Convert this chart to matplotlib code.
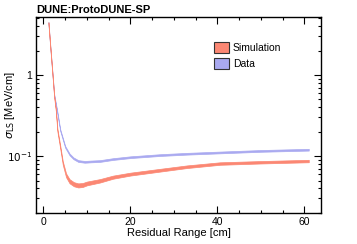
"""Landau width vs residual range, ProtoDUNE-SP data vs simulation."""

import numpy as np
import matplotlib

matplotlib.use("Agg")
import matplotlib.pyplot as plt
from matplotlib.patches import Patch
from matplotlib.ticker import FixedLocator, FixedFormatter, MultipleLocator, NullFormatter

plt.rcParams["font.family"] = ["Liberation Sans", "DejaVu Sans"]

# residual range [cm] and sigma_LS [MeV/cm]
data_rr = [1.15, 1.5, 2.0, 2.46, 3.1, 3.85, 5.0, 6.0, 6.9, 8.0, 9.5, 11.0, 13.0,
           16.0, 20.0, 26.8, 33.0, 40.6, 50.0, 61.0]
data_sigma = [4.4, 2.5, 1.15, 0.57, 0.37, 0.21, 0.13, 0.105, 0.094, 0.087, 0.085,
              0.086, 0.087, 0.092, 0.097, 0.103, 0.107, 0.111, 0.116, 0.12]
data_relerr = [0.025] * len(data_rr)

sim_rr = [1.15, 1.5, 2.0, 2.46, 2.85, 3.2, 3.85, 4.45, 5.2, 6.0, 7.0, 8.0, 9.0,
          10.0, 13.0, 16.0, 20.0, 26.8, 33.0, 40.6, 50.0, 61.0]
sim_sigma = [4.4, 2.5, 1.15, 0.55, 0.37, 0.21, 0.13, 0.082, 0.058, 0.049, 0.045,
             0.0435, 0.044, 0.046, 0.0496, 0.055, 0.06, 0.067, 0.074, 0.081, 0.084,
             0.087]
sim_relerr = [0.02, 0.02, 0.025, 0.03, 0.035, 0.04, 0.045, 0.05, 0.055, 0.06, 0.06,
              0.06, 0.058, 0.055, 0.05, 0.045, 0.042, 0.04, 0.038, 0.036, 0.035, 0.035]

SIM_COLOR = "#fb8773"
DATA_COLOR = "#a9a9f0"


def band(ax, x, y, rel, color):
    x = np.asarray(x)
    y = np.asarray(y)
    rel = np.asarray(rel)
    ax.fill_between(x, y / (1 + rel), y * (1 + rel), color=color, linewidth=0.5,
                    edgecolor=color)


fig = plt.figure(figsize=(3.57, 2.44), dpi=100)
ax = fig.add_axes([0.101, 0.128, 0.798, 0.802])

band(ax, data_rr, data_sigma, data_relerr, DATA_COLOR)
band(ax, sim_rr, sim_sigma, sim_relerr, SIM_COLOR)

ax.set_yscale("log")
ax.set_xlim(-1.7, 63.8)
ax.set_ylim(0.02, 5.2)

ax.xaxis.set_major_locator(MultipleLocator(20))
ax.xaxis.set_minor_locator(MultipleLocator(5))
ax.yaxis.set_major_locator(FixedLocator([0.1, 1.0]))
ax.yaxis.set_major_formatter(FixedFormatter(["$10^{-1}$", "1"]))
minors = [m * 10.0 ** e for e in (-2, -1, 0) for m in range(2, 10)]
ax.yaxis.set_minor_locator(FixedLocator(minors))
ax.yaxis.set_minor_formatter(NullFormatter())

ax.tick_params(which="both", direction="in", top=True, right=True, labelsize=7.5,
               width=0.8, pad=3)
ax.tick_params(which="major", length=5)
ax.tick_params(which="minor", length=2.5)
for spine in ax.spines.values():
    spine.set_linewidth(1.0)

ax.set_xlabel("Residual Range [cm]", fontsize=8, labelpad=1)
ax.set_ylabel(r"$\sigma_{\rm LS}$ [MeV/cm]", fontsize=8)
ax.yaxis.set_label_coords(-0.068, 0.55)
ax.set_title("DUNE:ProtoDUNE-SP", fontsize=8, fontweight="bold", loc="left", pad=3)

handles = [Patch(facecolor=SIM_COLOR, edgecolor="#333333", linewidth=0.8),
           Patch(facecolor=DATA_COLOR, edgecolor="#333333", linewidth=0.8)]
ax.legend(handles, ["Simulation", "Data"], loc="upper left",
          bbox_to_anchor=(0.6, 0.91), frameon=False, fontsize=7.5,
          handlelength=1.45, handleheight=1.3, handletextpad=0.35, labelspacing=0.45,
          borderpad=0.2)

fig.savefig("out.png", dpi=100)
plt.close(fig)
